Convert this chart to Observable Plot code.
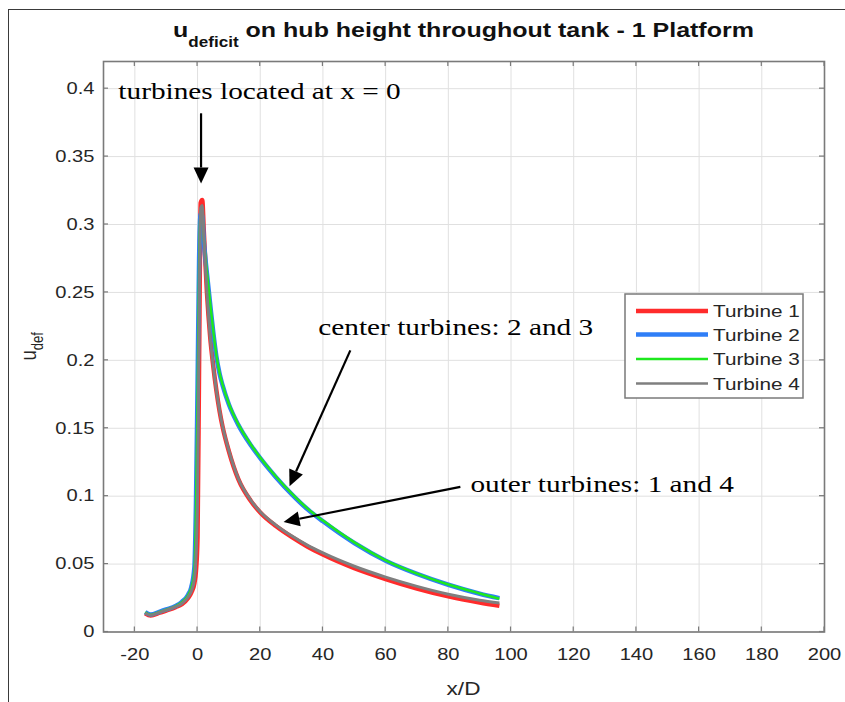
<!DOCTYPE html>
<html><head><meta charset="utf-8">
<script src="https://cdn.jsdelivr.net/npm/d3@7"></script>
<script src="https://cdn.jsdelivr.net/npm/@observablehq/plot@0.6"></script>
<style>
html,body{margin:0;padding:0;background:#fff;}
#wrap{position:relative;width:845px;height:702px;overflow:hidden;}
#border{position:absolute;left:8px;top:9px;width:900px;height:800px;border-left:1.5px solid #3a3a3a;border-top:1.5px solid #3a3a3a;pointer-events:none;}
#wrap svg{position:absolute;left:0;top:0;}
</style></head><body><div id="wrap"><div id="border"></div></div>
<script>
// ---- data ----
const xD = [-16.7, -15, -12, -10, -7, -5, -3, -2, -1, -0.5, 0, 0.5, 1, 1.5, 2, 3, 4, 5, 6, 7, 8, 10, 13, 17, 20, 25, 30, 35, 40, 50, 60, 70, 80, 90, 96.3];
const turbine1 = [0.0138, 0.0122, 0.0142, 0.0158, 0.0183, 0.0205, 0.0250, 0.0290, 0.0360, 0.0450, 0.0700, 0.2000, 0.3160, 0.3180, 0.2950, 0.2500, 0.2180, 0.1960, 0.1780, 0.1630, 0.1510, 0.1330, 0.1125, 0.0965, 0.0880, 0.0780, 0.0700, 0.0630, 0.0570, 0.0470, 0.0390, 0.0320, 0.0262, 0.0217, 0.0193];
const turbine2 = [0.0146, 0.0128, 0.0150, 0.0166, 0.0192, 0.0222, 0.0275, 0.0330, 0.0480, 0.0950, 0.1800, 0.2750, 0.3080, 0.3060, 0.2880, 0.2640, 0.2420, 0.2210, 0.2030, 0.1905, 0.1815, 0.1675, 0.1525, 0.1375, 0.1280, 0.1140, 0.1015, 0.0905, 0.0815, 0.0655, 0.0525, 0.0428, 0.0348, 0.0282, 0.0249];
const turbine3 = [0.0145, 0.0127, 0.0149, 0.0165, 0.0190, 0.0220, 0.0272, 0.0325, 0.0460, 0.0900, 0.1700, 0.2700, 0.3100, 0.3080, 0.2900, 0.2650, 0.2430, 0.2220, 0.2040, 0.1910, 0.1820, 0.1680, 0.1530, 0.1380, 0.1285, 0.1145, 0.1020, 0.0910, 0.0820, 0.0660, 0.0528, 0.0430, 0.0350, 0.0284, 0.0245];
const turbine4 = [0.0140, 0.0124, 0.0145, 0.0160, 0.0186, 0.0210, 0.0258, 0.0300, 0.0390, 0.0560, 0.1000, 0.2300, 0.3120, 0.3140, 0.2920, 0.2490, 0.2180, 0.1960, 0.1780, 0.1635, 0.1515, 0.1335, 0.1130, 0.0970, 0.0885, 0.0787, 0.0708, 0.0640, 0.0582, 0.0484, 0.0404, 0.0336, 0.0278, 0.0234, 0.0214];
const seriesNames = ["Turbine 1", "Turbine 2", "Turbine 3", "Turbine 4"];
const seriesValues = [turbine1, turbine2, turbine3, turbine4];
const seriesColors = ["#ff2b2b", "#2f7ef7", "#1ee81e", "#7f7f7f"];
const seriesWidths = [4.5, 4.5, 2.5, 3];
const legendWidths = [4.5, 4.5, 2.5, 2.5];
const xTicks = [-20, 0, 20, 40, 60, 80, 100, 120, 140, 160, 180, 200];
const yTicks = [0, 0.05, 0.1, 0.15, 0.2, 0.25, 0.3, 0.35, 0.4];
const xDomain = [-30, 200];
const yDomain = [0, 0.42];
const titleMain = "u";
const titleSub = "deficit";
const titleRest = " on hub height throughout tank - 1 Platform";
const xLabel = "x/D";
const yLabelMain = "u";
const yLabelSub = "def";
const annotText = ["turbines located at x = 0", "center turbines: 2 and 3", "outer turbines: 1 and 4"];
const annotX = [-25.1, 38.7, 87.2];
const annotY = [0.3921, 0.218, 0.1024];
const arrowX1 = [1.28, 48.9, 84.0];
const arrowY1 = [0.3815, 0.207, 0.1065];
const arrowX2 = [1.28, 29.5, 27.6];
const arrowY2 = [0.3298, 0.107, 0.0807];

// ---- build ----
const SX = 1.22;
const rows = seriesNames.map((name, i) => xD.map((x, j) => ({series: name, x, y: seriesValues[i][j]})));
const FONT = "Liberation Sans, Arial, Helvetica, sans-serif";
const SERIF = "Liberation Serif, Times New Roman, serif";
const AXIS = "#7a7a7a";

function overlay(index, scales, values, dims) {
  const g = d3.create("svg:g");
  const W = dims.width, mL = dims.marginLeft, mR = dims.marginRight, mT = dims.marginTop, mB = dims.marginBottom, H = dims.height;
  const left = mL, right = W - mR, top = mT, bottom = H - mB;
  const cx = (left + right) / 2;
  // inward ticks on all four sides
  const tk = 5;
  xTicks.forEach(v => {
    const x = scales.x(v);
    g.append("line").attr("x1", x).attr("x2", x).attr("y1", bottom).attr("y2", bottom - tk).attr("stroke", AXIS).attr("stroke-width", 1.2);
    g.append("line").attr("x1", x).attr("x2", x).attr("y1", top).attr("y2", top + tk).attr("stroke", AXIS).attr("stroke-width", 1.2);
  });
  yTicks.forEach(v => {
    const y = scales.y(v);
    g.append("line").attr("y1", y).attr("y2", y).attr("x1", left).attr("x2", left + tk).attr("stroke", AXIS).attr("stroke-width", 1.2);
    g.append("line").attr("y1", y).attr("y2", y).attr("x1", right).attr("x2", right - tk).attr("stroke", AXIS).attr("stroke-width", 1.2);
  });
  // title
  const t = g.append("text").attr("transform", `translate(${cx},37) scale(${SX},1)`)
    .attr("text-anchor", "middle").attr("font-family", FONT).attr("font-weight", "bold")
    .attr("font-size", 20.5).attr("fill", "#111");
  t.append("tspan").text(titleMain);
  t.append("tspan").attr("font-size", 14).attr("dy", 10).text(titleSub);
  t.append("tspan").attr("dy", -10).text(titleRest);
  // x label
  g.append("text").attr("transform", `translate(${cx},695) scale(${SX},1)`)
    .attr("text-anchor", "middle").attr("font-family", FONT).attr("font-size", 18.5).attr("fill", "#262626").text(xLabel);
  // y label
  const yl = g.append("text").attr("transform", `translate(36,${(top + bottom) / 2}) rotate(-90) scale(1,${SX})`)
    .attr("text-anchor", "middle").attr("font-family", FONT).attr("font-size", 18.5).attr("fill", "#262626");
  yl.append("tspan").text(yLabelMain);
  yl.append("tspan").attr("font-size", 13).attr("dy", 6).text(yLabelSub);
  // annotations
  annotText.forEach((s, i) => {
    g.append("text").attr("transform", `translate(${scales.x(annotX[i])},${scales.y(annotY[i])}) scale(${SX},1)`)
      .attr("text-anchor", "start").attr("font-family", SERIF).attr("font-size", 24).attr("fill", "#000").text(s);
  });
  // arrows
  arrowX1.forEach((_, i) => {
    const x1 = scales.x(arrowX1[i]), y1 = scales.y(arrowY1[i]);
    const x2 = scales.x(arrowX2[i]), y2 = scales.y(arrowY2[i]);
    const a = Math.atan2(y2 - y1, x2 - x1);
    const L = 16, hw = 7.5;
    const bx = x2 - L * Math.cos(a), by = y2 - L * Math.sin(a);
    g.append("line").attr("x1", x1).attr("y1", y1).attr("x2", bx).attr("y2", by)
      .attr("stroke", "#000").attr("stroke-width", 2.2);
    const px = -Math.sin(a) * hw, py = Math.cos(a) * hw;
    g.append("path").attr("d", `M${x2},${y2}L${bx + px},${by + py}L${bx - px},${by - py}Z`).attr("fill", "#000");
  });
  // legend
  const lx = 625, ly = 294, lw = 178, lh = 104;
  g.append("rect").attr("x", lx).attr("y", ly).attr("width", lw).attr("height", lh)
    .attr("fill", "#fff").attr("stroke", "#7a7a7a").attr("stroke-width", 1.5);
  const rowsY = [311, 334.5, 359, 383.5];
  seriesNames.forEach((name, i) => {
    g.append("line").attr("x1", lx + 11).attr("x2", lx + 83).attr("y1", rowsY[i]).attr("y2", rowsY[i])
      .attr("stroke", seriesColors[i]).attr("stroke-width", legendWidths[i]);
    g.append("text").attr("transform", `translate(${lx + 88},${rowsY[i] + 6}) scale(${SX},1)`)
      .attr("text-anchor", "start").attr("font-family", FONT).attr("font-size", 17).attr("fill", "#262626").text(name);
  });
  return g.node();
}

const fmt = d => String(d);
const chart = Plot.plot({
  width: 845,
  height: 702,
  marginLeft: 103,
  marginRight: 21,
  marginTop: 61,
  marginBottom: 70.5,
  style: {fontFamily: FONT, fontSize: "16.5px", color: "#262626", background: "transparent"},
  x: {domain: xDomain},
  y: {domain: yDomain},
  marks: [
    Plot.gridX(xTicks, {stroke: "#e0e0e0", strokeOpacity: 1, strokeWidth: 1}),
    Plot.gridY(yTicks, {stroke: "#e0e0e0", strokeOpacity: 1, strokeWidth: 1}),
    ...rows.map((r, i) => Plot.line(r, {x: "x", y: "y", stroke: seriesColors[i], strokeWidth: seriesWidths[i], curve: "monotone-x", strokeLinecap: "butt"})),
    Plot.axisX({anchor: "bottom", ticks: xTicks, tickSize: 0, tickPadding: 16.5, tickFormat: fmt, label: null}),
    Plot.axisY({anchor: "left", ticks: yTicks, tickSize: 0, tickPadding: 9, tickFormat: fmt, label: null}),
    Plot.frame({stroke: AXIS, strokeWidth: 1.6}),
    overlay
  ]
});
document.getElementById("wrap").appendChild(chart);
// horizontal stretch of axis tick labels to match the reference's text proportions
chart.querySelectorAll('g[aria-label$="tick label"] text').forEach(t => {
  const tr = t.getAttribute("transform") || "";
  const x = parseFloat(t.getAttribute("x")) || 0;
  t.setAttribute("transform", `${tr} translate(${x},0) scale(${SX},1) translate(${-x},0)`);
});
</script></body></html>
